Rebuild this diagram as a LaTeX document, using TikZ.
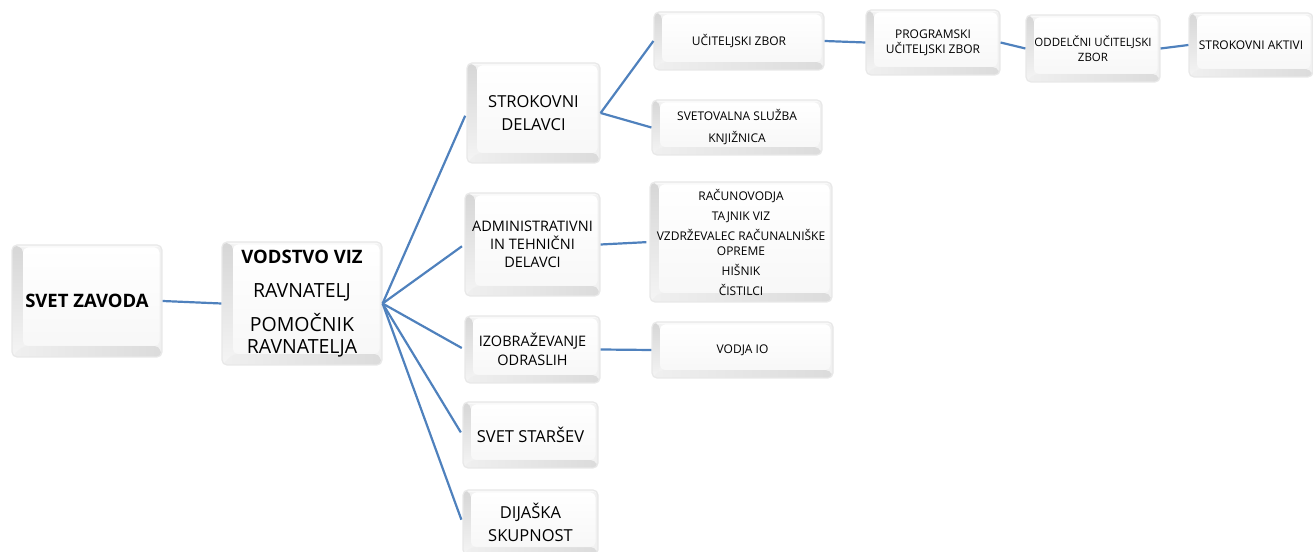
\documentclass[tikz,border=0pt]{standalone}
\usepackage{fontspec}
\setmainfont{Open Sans}
\definecolor{linec}{RGB}{79,129,189}
\tikzset{
  box/.style={rounded corners=5pt, draw=gray!18, line width=1.2pt, inner sep=0pt, align=center,
    path picture={
      \coordinate (pA) at (path picture bounding box.south west);
      \coordinate (pB) at (path picture bounding box.north east);
      \coordinate (pC) at (path picture bounding box.north west);
      \coordinate (pD) at (path picture bounding box.south east);
      \coordinate (iA) at ([shift={(#1,#1)}]pA);
      \coordinate (iB) at ([shift={(-2.5pt,-2.5pt)}]pB);
      \coordinate (iC) at (iA |- iB);
      \coordinate (iD) at (iB |- iA);
      \fill[gray!10] (pA) rectangle (pB);
      \shade[top color=gray!32, bottom color=gray!8] (pA) -- (pC) -- (iC) -- (iA) -- cycle;
      \shade[left color=gray!12, right color=gray!28] (pA) -- (iA) -- (iD) -- (pD) -- cycle;
      \fill[gray!12] (pD) -- (iD) -- (iB) -- (pB) -- cycle;
      \fill[gray!5] (pC) -- (pB) -- (iB) -- (iC) -- cycle;
      \shade[top color=white, bottom color=gray!6] (iA) rectangle (iB);
    }},
  box/.default=9pt,
  conn/.style={draw=linec, line width=2.2pt},
  fsml/.style={font=\fontsize{12}{15}\selectfont},
}
\begin{document}
\begin{tikzpicture}[x=1pt,y=1pt]
\useasboundingbox (0,0) rectangle (1313,551);
% level 0/1
\node[box=11pt, minimum width=150pt, minimum height=112pt, font=\fontsize{18.5}{22}\selectfont] (svet) at (87,250) {\textbf{SVET ZAVODA}};
\node[box=11pt, minimum width=160pt, minimum height=123pt, font=\fontsize{19.5}{22}\selectfont] (vod) at (302,247.5)
  {{\fontsize{18.5}{22}\selectfont\textbf{VODSTVO VIZ}}\\[12pt]RAVNATELJ\\[12pt]POMOČNIK\\RAVNATELJA};
% level 2
\node[box=10pt, minimum width=133pt, minimum height=100pt, font=\fontsize{16.5}{23}\selectfont] (strok) at (533.5,438) {STROKOVNI\\DELAVCI};
\node[box=10pt, minimum width=135pt, minimum height=103pt, font=\fontsize{14.5}{18}\selectfont] (admin) at (532.5,306.5) {ADMINISTRATIVNI\\IN TEHNIČNI\\DELAVCI};
\node[box=8pt, minimum width=135pt, minimum height=67pt, font=\fontsize{14.5}{19}\selectfont] (izob) at (532.5,201.5) {IZOBRAŽEVANJE\\ODRASLIH};
\node[box=8pt, minimum width=135pt, minimum height=66pt, font=\fontsize{16.5}{22}\selectfont] (stars) at (530.5,116) {SVET STARŠEV};
\node[box=8pt, minimum width=135pt, minimum height=65pt, font=\fontsize{16.5}{23}\selectfont] (dijas) at (530.5,28.5) {DIJAŠKA\\SKUPNOST};
% level 3
\node[box=8pt, minimum width=170pt, minimum height=58pt, fsml] (ucit) at (739,510) {UČITELJSKI ZBOR};
\node[box=8pt, minimum width=170pt, minimum height=55pt, font=\fontsize{12}{22}\selectfont] (svetov) at (737,423.5) {SVETOVALNA SLUŽBA\\KNJIŽNICA};
\node[box=8pt, minimum width=134pt, minimum height=65pt, fsml] (prog) at (933,508.5) {PROGRAMSKI\\UČITELJSKI ZBOR};
\node[box=8pt, minimum width=134pt, minimum height=67pt, font=\fontsize{11.5}{15}\selectfont] (oddel) at (1093,502.5) {ODDELČNI UČITELJSKI\\ZBOR};
\node[box=8pt, minimum width=124pt, minimum height=64pt, fsml] (aktivi) at (1251,506) {STROKOVNI AKTIVI};
\node[box=9pt, minimum width=182pt, minimum height=120pt, font=\fontsize{12}{15}\selectfont] (racun) at (741,309)
  {RAČUNOVODJA\\[5pt]TAJNIK VIZ\\[5pt]VZDRŽEVALEC RAČUNALNIŠKE\\OPREME\\[5pt]HIŠNIK\\[5pt]ČISTILCI};
\node[box=8pt, minimum width=181pt, minimum height=56pt, fsml] (vodja) at (742.5,201) {VODJA IO};
% connectors
\draw[conn] (svet.east) -- (vod.west);
\foreach \t in {strok,admin,izob,stars,dijas}
  \draw[conn, shorten >=3pt] (vod.east) -- (\t.west);
\draw[conn] (strok.east) -- (ucit.west);
\draw[conn] (strok.east) -- (svetov.west);
\draw[conn] (ucit.east) -- (prog.west);
\draw[conn] (prog.east) -- (oddel.west);
\draw[conn] (oddel.east) -- (aktivi.west);
\draw[conn, shorten >=3pt] (admin.east) -- (racun.west);
\draw[conn] (izob.east) -- (vodja.west);
\end{tikzpicture}
\end{document}
